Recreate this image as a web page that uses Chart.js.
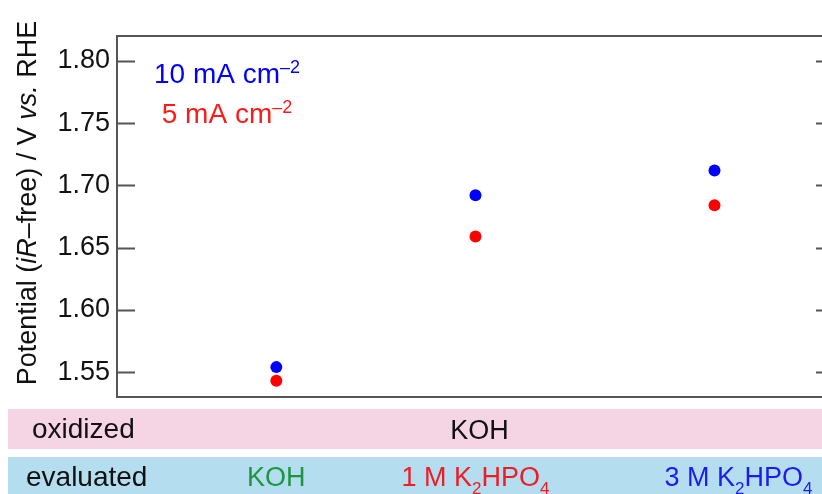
<!DOCTYPE html>
<html>
<head>
<meta charset="utf-8">
<script src="https://cdn.jsdelivr.net/npm/chart.js@4.4.1/dist/chart.umd.min.js"></script>
<style>
  html, body { margin: 0; padding: 0; background: #fff; overflow: hidden; }
  #wrap { width: 822px; height: 494px; overflow: hidden; }
  #chart { display: block; }
</style>
</head>
<body>
<div id="wrap"><canvas id="chart" width="840" height="494"></canvas></div>
<script>
// values
const categories = ['KOH', '1 M K2HPO4', '3 M K2HPO4'];
const xPos = [0.8, 1.8, 3.0];
const potential10 = [1.554, 1.692, 1.712];
const potential5 = [1.543, 1.659, 1.684];
const yTicks = [1.55, 1.60, 1.65, 1.70, 1.75, 1.80];
const evalLabelPos = [0.8, 1.8, 3.12];

const FONT = '"Liberation Sans", Arial, Helvetica, sans-serif';

// rich text pieces (subscripts / superscripts / italics)
const evalLabels = [
  [{ t: 'KOH' }],
  [{ t: '1 M K' }, { t: '2', sub: true }, { t: 'HPO' }, { t: '4', sub: true }],
  [{ t: '3 M K' }, { t: '2', sub: true }, { t: 'HPO' }, { t: '4', sub: true }],
];
const evalColors = ['#1e9641', '#ee1c25', '#1c1cf0'];

function pieceFont(p, size) {
  const s = (p.sub || p.sup) ? Math.round(size * 0.64) : size;
  return (p.it ? 'italic ' : '') + s + 'px ' + FONT;
}

function richWidth(ctx, parts, size) {
  let w = 0;
  parts.forEach(p => { ctx.font = pieceFont(p, size); w += ctx.measureText(p.t).width; });
  return w;
}

function drawRich(ctx, parts, x, y, size, align) {
  let cx = align === 'center' ? x - richWidth(ctx, parts, size) / 2 : x;
  ctx.textAlign = 'left';
  ctx.textBaseline = 'alphabetic';
  parts.forEach(p => {
    ctx.font = pieceFont(p, size);
    let dy = 0;
    if (p.sub) dy = size * 0.3;
    if (p.sup) dy = -size * 0.36;
    ctx.fillText(p.t, cx, y + dy);
    cx += ctx.measureText(p.t).width;
  });
}

const decorPlugin = {
  id: 'decor',
  afterDraw(chart) {
    const ctx = chart.ctx;
    const { left, right, top, bottom } = chart.chartArea;
    const xs = chart.scales.x;
    const ys = chart.scales.y;
    ctx.save();

    // frame + inward ticks
    ctx.strokeStyle = '#555';
    ctx.lineWidth = 2;
    ctx.strokeRect(left, top, right - left, bottom - top);
    ctx.beginPath();
    yTicks.forEach(v => {
      const py = Math.round(ys.getPixelForValue(v)) + 0.5;
      ctx.moveTo(left, py); ctx.lineTo(left + 18, py);
      ctx.moveTo(right, py); ctx.lineTo(right - 18, py);
    });
    ctx.stroke();

    // y axis title
    ctx.save();
    ctx.translate(26, 203);
    ctx.rotate(-Math.PI / 2);
    ctx.fillStyle = '#111';
    drawRich(ctx, [
      { t: 'Potential (' }, { t: 'iR', it: true }, { t: '–free) / V ' },
      { t: 'vs.', it: true }, { t: ' RHE' }
    ], 0, 10, 27, 'center');
    ctx.restore();

    // legend text
    ctx.fillStyle = '#0000ff';
    drawRich(ctx, [{ t: '10 mA cm' }, { t: '–2', sup: true }], 227, 83, 28, 'center');
    ctx.fillStyle = '#ff1a1a';
    drawRich(ctx, [{ t: '5 mA cm' }, { t: '–2', sup: true }], 227, 123, 28, 'center');

    // bottom bands
    ctx.fillStyle = '#f5d5e3';
    ctx.fillRect(8, 409, 840, 40);
    ctx.fillStyle = '#b4ddf0';
    ctx.fillRect(8, 457, 840, 37);

    ctx.fillStyle = '#111';
    drawRich(ctx, [{ t: 'oxidized' }], 32, 438, 28, 'left');
    drawRich(ctx, [{ t: 'KOH' }], xs.getPixelForValue(xPos[1]) + 4, 439, 27, 'center');
    drawRich(ctx, [{ t: 'evaluated' }], 26, 486, 28, 'left');

    evalLabels.forEach((parts, i) => {
      ctx.fillStyle = evalColors[i];
      drawRich(ctx, parts, xs.getPixelForValue(evalLabelPos[i]), 486, 27, 'center');
    });

    ctx.restore();
  }
};

new Chart(document.getElementById('chart'), {
  type: 'scatter',
  data: {
    datasets: [
      {
        label: '10 mA cm-2',
        data: xPos.map((x, i) => ({ x: x, y: potential10[i] })),
        backgroundColor: '#0000ff',
        borderWidth: 0,
        pointRadius: 6,
      },
      {
        label: '5 mA cm-2',
        data: xPos.map((x, i) => ({ x: x, y: potential5[i] })),
        backgroundColor: '#ff0000',
        borderWidth: 0,
        pointRadius: 6,
      },
    ],
  },
  options: {
    responsive: false,
    devicePixelRatio: 1,
    animation: false,
    layout: { padding: { left: 0, top: 36, right: 6, bottom: 97 } },
    plugins: { legend: { display: false }, tooltip: { enabled: false } },
    scales: {
      x: { type: 'linear', min: 0, max: 3.6, display: false },
      y: {
        min: 1.53,
        max: 1.82,
        grid: { display: false, drawTicks: false },
        border: { display: false },
        afterBuildTicks: (scale) => { scale.ticks = yTicks.map(v => ({ value: v })); },
        afterFit: (scale) => { scale.width = 117; },
        ticks: {
          padding: 7,
          color: '#111',
          font: { family: FONT, size: 27 },
          callback: (v) => Number(v).toFixed(2),
        },
      },
    },
  },
  plugins: [decorPlugin],
});
</script>
</body>
</html>
